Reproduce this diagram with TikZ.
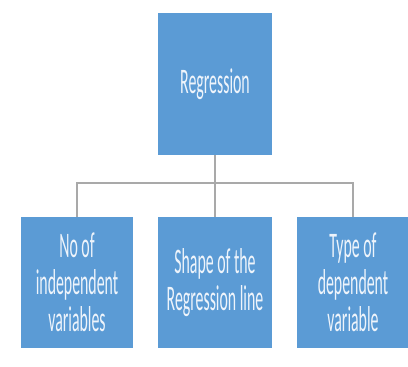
\documentclass[tikz,border=0pt]{standalone}
\usepackage{fontspec}
\newfontfamily\boxfont[FakeStretch=0.44]{Carlito}
\definecolor{boxblue}{HTML}{5B9BD5}
\definecolor{linkgray}{HTML}{A9A9A9}
\definecolor{txtwhite}{HTML}{EEF4FB}
\begin{document}
\begin{tikzpicture}[x=1pt,y=1pt,
    box/.style={fill=boxblue, text=txtwhite, align=center, inner sep=0pt,
        font=\boxfont\fontsize{36}{37}\selectfont},
    link/.style={draw=linkgray, line width=1.5pt}]
    \useasboundingbox (0,0) rectangle (408,367);
    % 根节点
    \node[box, minimum width=114, minimum height=142] (root) at (215,283) {Regression};
    % 子节点
    \node[box, minimum width=112, minimum height=131] (nvar) at (77,84.5) {No of\\independent\\variables};
    \node[box, minimum width=114, minimum height=131] (shape) at (215,84.5) {Shape of the\\Regression line};
    \node[box, minimum width=112, minimum height=131] (dtype) at (353,84.5) {Type of\\dependent\\variable};
    % 连线
    \coordinate (bar) at (215,184);
    \draw[link] (root.south) -- (bar);
    \draw[link] (nvar.north) |- (bar) -| (dtype.north);
    \draw[link] (bar) -- (shape.north);
\end{tikzpicture}
\end{document}
